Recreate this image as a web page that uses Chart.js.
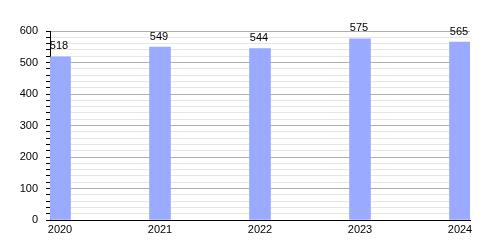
<!DOCTYPE html>
<html>
<head>
<meta charset="utf-8">
<script src="https://cdn.jsdelivr.net/npm/chart.js@4"></script>
<style>
  html, body { margin: 0; padding: 0; background: #fff; }
  #wrap { width: 500px; height: 250px; }
</style>
</head>
<body>
<div id="wrap"><canvas id="chart" width="500" height="250"></canvas></div>
<script>
// data
const years = [2020, 2021, 2022, 2023, 2024];
const counts = [518, 549, 544, 575, 565];
const yTicks = [0, 100, 200, 300, 400, 500, 600];

const FONT = { family: '"Liberation Sans", Arial, sans-serif', size: 11 };

// draws the number above each bar
const valueLabels = {
  id: 'valueLabels',
  afterDatasetsDraw(chart) {
    const ctx = chart.ctx;
    const meta = chart.getDatasetMeta(0);
    ctx.save();
    ctx.font = `${FONT.size}px ${FONT.family}`;
    ctx.fillStyle = '#000';
    ctx.textAlign = 'center';
    ctx.textBaseline = 'bottom';
    meta.data.forEach((bar, i) => {
      ctx.fillText(String(counts[i]), bar.x - 1, bar.y - 5);
    });
    ctx.restore();
  }
};

new Chart(document.getElementById('chart'), {
  type: 'bar',
  data: {
    datasets: [{
      data: years.map((y, i) => ({ x: y, y: counts[i] })),
      backgroundColor: '#99aaff',
      borderWidth: 0,
      barThickness: 21
    }]
  },
  options: {
    responsive: false,
    animation: false,
    layout: { padding: { top: 31, right: 30, left: 0, bottom: 0 } },
    plugins: { legend: { display: false }, tooltip: { enabled: false } },
    scales: {
      x: {
        type: 'linear',
        offset: false,
        min: 2019.9,
        max: 2024.1,
        afterBuildTicks: scale => { scale.ticks = years.map(v => ({ value: v })); },
        afterFit: scale => { scale.height = 30; },
        grid: { drawOnChartArea: false, drawTicks: false, offset: false },
        border: { display: true, color: '#000', width: 1 },
        ticks: {
          color: '#000',
          font: FONT,
          padding: 3,
          maxRotation: 0,
          autoSkip: false,
          callback: v => String(v)
        }
      },
      y: {
        min: 0,
        max: 600,
        afterBuildTicks: scale => {
          const t = [];
          for (let v = 0; v <= yTicks[yTicks.length - 1]; v += 20) t.push({ value: v });
          scale.ticks = t;
        },
        afterFit: scale => { scale.width = 50; },
        grid: {
          color: c => (c.tick && c.tick.value % 100 === 0) ? '#b0b0b0' : '#e6e6e6',
          tickColor: '#000',
          tickLength: 4
        },
        border: { display: true, color: '#000', width: 1 },
        ticks: {
          color: '#000',
          font: FONT,
          padding: 8,
          autoSkip: false,
          callback: v => yTicks.includes(v) ? String(v) : ''
        }
      }
    }
  },
  plugins: [valueLabels]
});
</script>
</body>
</html>
